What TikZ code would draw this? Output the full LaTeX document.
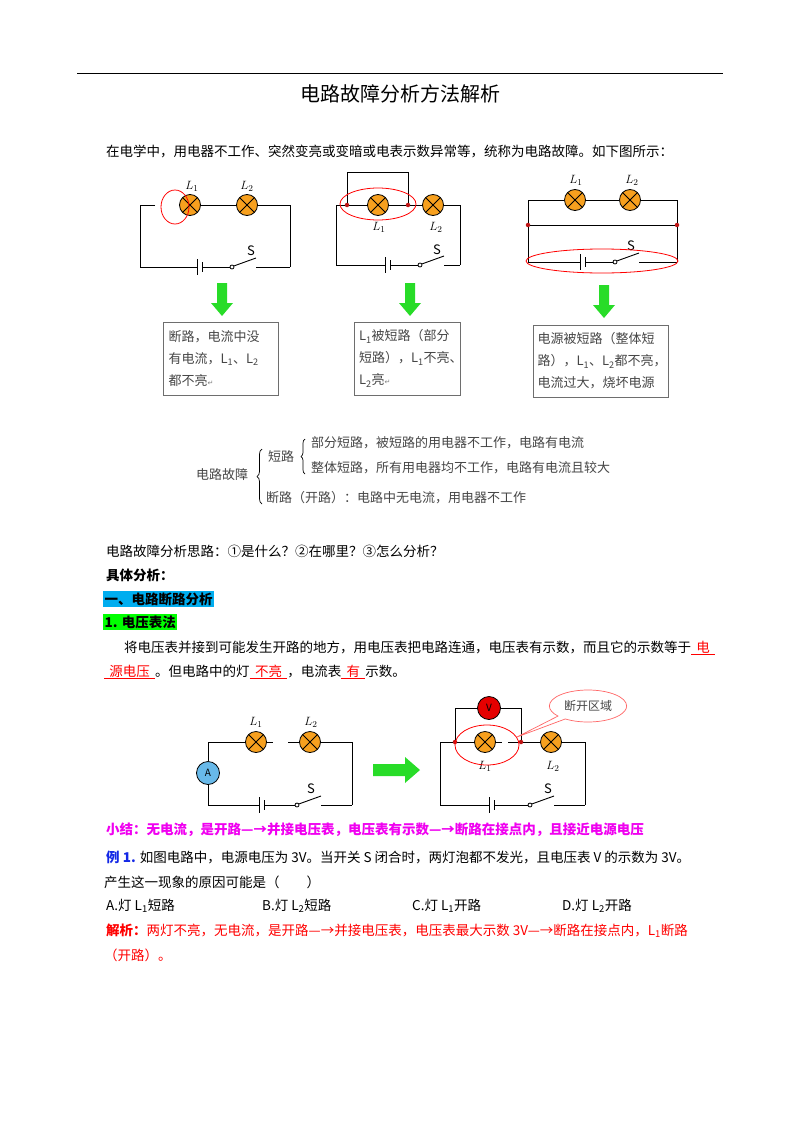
\documentclass[tikz,border=0pt]{standalone}
\usepackage{fontspec}
\setmainfont{Noto Sans CJK SC}
\newfontfamily\symfont{DejaVu Sans}
\usetikzlibrary{shapes.geometric,shapes.callouts,decorations.pathreplacing}

\definecolor{lampor}{RGB}{247,160,30}
\definecolor{dotred}{RGB}{190,20,20}
\definecolor{arrgreen}{RGB}{40,220,40}
\definecolor{magtext}{RGB}{240,0,240}
\definecolor{bluetext}{RGB}{20,40,230}
\definecolor{boxgray}{RGB}{110,110,110}
\definecolor{graytext}{RGB}{70,70,70}

\newcommand\retmark{{\symfont\fontsize{7}{8}\selectfont\textcolor{gray}{↵}}}
\newcommand\fillu[1]{\textcolor{red}{$\underline{\hbox{\ \,#1\ \,}}$}}

\tikzset{
  wire/.style={line width=0.9pt},
  lamp/.style={circle, draw, line width=0.8pt, fill=lampor, minimum size=21pt, inner sep=0pt,
    path picture={\draw[line width=0.8pt] (path picture bounding box.north west) -- (path picture bounding box.south east)
      (path picture bounding box.north east) -- (path picture bounding box.south west);}},
  meter/.style={circle, draw, line width=0.8pt, minimum size=23pt, inner sep=0pt, font=\fontsize{10}{10}\selectfont},
  jdot/.style={circle, fill=dotred, inner sep=0pt, minimum size=4.5pt},
  lbl/.style={inner sep=0pt, font=\fontsize{13}{13}\selectfont},
  txt/.style={anchor=west, inner sep=0pt, font=\fontsize{13.5}{15}\selectfont},
  box/.style={draw=boxgray, line width=0.9pt, inner sep=0pt, align=left, text=graytext,
    font=\fontsize{13}{22}\selectfont},
  battery/.pic={\draw[line width=0.9pt] (-2.5,-8) -- (-2.5,8); \draw[line width=1.8pt] (2.5,-5) -- (2.5,5);},
  switch/.pic={\draw[line width=0.8pt, fill=white] (0,0) circle (2); \draw[line width=0.9pt] (1.8,-1) -- (24,-9);},
  downarrow/.pic={\fill[arrgreen] (-5,0) -- (5,0) -- (5,20) -- (11,20) -- (0,33) -- (-11,20) -- (-5,20) -- cycle;},
}

% bottom wire: left x, right x, y, battery x, switch x
\newcommand\bwire[5]{%
  \draw[wire] (#1,#3) -- (#4-2.5,#3) (#4+2.5,#3) -- (#5-2,#3) (#5+24,#3) -- (#2,#3);
  \pic at (#4,#3) {battery};
  \pic at (#5,#3) {switch};}

\begin{document}
\begin{tikzpicture}[x=1pt,y=-1pt]
  \useasboundingbox[fill=white] (0,0) rectangle (800,1132);

  % header
  \draw[line width=0.8pt] (77,73) -- (723,73);
  \node[inner sep=0pt, font=\fontsize{20}{22}\selectfont] (title) at (400,94) {电路故障分析方法解析};
  \node[txt] (intro) at (106,151) {在电学中，用电器不工作、突然变亮或变暗或电表示数异常等，统称为电路故障。如下图所示：};

  % circuit 1: open circuit
  \node[lamp] (c1l1) at (190,205) {};
  \node[lamp] (c1l2) at (247,205) {};
  \node[lbl] at (192,186) {$L_1$};
  \node[lbl] at (247,186) {$L_2$};
  \draw[wire] (155,205) -- (140,205) -- (140,267);
  \draw[wire] (c1l1) -- (c1l2) -- (290,205) -- (290,267);
  \bwire{140}{290}{267}{200}{232}
  \node[lbl] at (251,251) {S};
  \draw[red, line width=0.8pt] (175,207) ellipse (14 and 17);
  \pic at (222,283) {downarrow};
  \node[box, minimum width=115pt, minimum height=73pt, text width=104pt] (b1) at (220.5,358.5)
    {断路，电流中没\\有电流，L\textsubscript{1}、L\textsubscript{2}\\都不亮\retmark};

  % circuit 2: L1 shorted
  \node[lamp] (c2l1) at (378,205) {};
  \node[lamp] (c2l2) at (433,205) {};
  \node[jdot] (c2d1) at (347,205) {};
  \node[jdot] (c2d2) at (408,205) {};
  \node[lbl] at (379,227) {$L_1$};
  \node[lbl] at (436,227) {$L_2$};
  \draw[wire] (336,265) -- (336,205) -- (c2d1) -- (c2l1) -- (c2d2) -- (c2l2) -- (460,205) -- (460,265);
  \draw[wire] (c2d1) -- (347,172) -- (408,172) -- (c2d2);
  \bwire{336}{460}{265}{388}{420}
  \node[lbl] at (437,250) {S};
  \draw[red, line width=0.8pt] (378,204) ellipse (38 and 16);
  \pic at (410,283) {downarrow};
  \node[box, minimum width=106pt, minimum height=73pt, text width=96pt] (b2) at (407,358.5)
    {L\textsubscript{1}被短路（部分\\短路），L\textsubscript{1}不亮、\\L\textsubscript{2}亮\retmark};

  % circuit 3: source shorted
  \node[lamp] (c3l1) at (575,200) {};
  \node[lamp] (c3l2) at (630,200) {};
  \node[jdot] (c3d1) at (528,225) {};
  \node[jdot] (c3d2) at (677,225) {};
  \node[lbl] at (576,180) {$L_1$};
  \node[lbl] at (632,180) {$L_2$};
  \draw[wire] (c3d1) -- (528,200) -- (c3l1) -- (c3l2) -- (677,200) -- (c3d2);
  \draw[wire] (c3d1) -- (c3d2);
  \draw[wire] (c3d1) -- (528,262);
  \draw[wire] (c3d2) -- (677,262);
  \bwire{528}{677}{262}{583}{615}
  \node[lbl] at (631,246) {S};
  \draw[red, line width=0.8pt] (602,261) ellipse (76 and 12);
  \pic at (604,285) {downarrow};
  \node[box, minimum width=135pt, minimum height=72pt, text width=126pt] (b3) at (600.5,361)
    {电源被短路（整体短\\路），L\textsubscript{1}、L\textsubscript{2}都不亮，\\电流过大，烧坏电源};

  % classification tree
  \node[inner sep=0pt, font=\fontsize{13}{15}\selectfont, text=graytext] (root) at (222,475) {电路故障};
  \draw[line width=0.7pt, decorate, decoration={brace, amplitude=5pt}] (262,504) -- (262,449);
  \node[txt, font=\fontsize{13}{15}\selectfont, text=graytext] (short) at (268,457) {短路};
  \draw[line width=0.7pt, decorate, decoration={brace, amplitude=4pt}] (305,474) -- (305,439);
  \node[txt, font=\fontsize{13}{15}\selectfont, text=graytext] (s1) at (311,443) {部分短路，被短路的用电器不工作，电路有电流};
  \node[txt, font=\fontsize{13}{15}\selectfont, text=graytext] (s2) at (311,468) {整体短路，所有用电器均不工作，电路有电流且较大};
  \node[txt, font=\fontsize{13}{15}\selectfont, text=graytext] (open) at (266,498) {断路（开路）：电路中无电流，用电器不工作};

  % analysis text
  \node[txt] at (106,551) {电路故障分析思路：①是什么？②在哪里？③怎么分析？};
  \node[txt, font=\fontsize{13.5}{15}\selectfont\bfseries] at (106,575) {具体分析：};
  \node[txt, fill=cyan, inner sep=1.5pt, font=\fontsize{13.5}{15}\selectfont\bfseries] at (103,599) {一、电路断路分析};
  \node[txt, fill=green, inner sep=1.5pt, font=\fontsize{13.5}{15}\selectfont\bfseries] at (103,622) {1. 电压表法};
  \node[txt] at (124,648) {将电压表并接到可能发生开路的地方，用电压表把电路连通，电压表有示数，而且它的示数等于\fillu{电}};
  \node[txt] at (104,672) {\fillu{源电压}。但电路中的灯\fillu{不亮}，电流表\fillu{有}示数。};

  % circuit 4: open circuit with ammeter
  \node[lamp] (c4l1) at (256,742) {};
  \node[lamp] (c4l2) at (310,742) {};
  \node[meter, fill=cyan!80!blue!60] (am) at (208,773) {A};
  \node[lbl] at (256,722) {$L_1$};
  \node[lbl] at (311,722) {$L_2$};
  \draw[wire] (am) -- (208,742) -- (c4l1);
  \draw[wire] (c4l1.east) -- ++(6,0);
  \draw[wire] (288,742) -- (c4l2) -- (352,742) -- (352,805);
  \draw[wire] (am) -- (208,805);
  \bwire{208}{352}{805}{262}{297}
  \node[lbl] at (311,789) {S};

  % right arrow
  \fill[arrgreen] (373,764) -- (405,764) -- (405,757) -- (420,770) -- (405,783) -- (405,776) -- (373,776) -- cycle;

  % circuit 5: voltmeter across L1
  \node[lamp] (c5l1) at (485,742) {};
  \node[lamp] (c5l2) at (551,742) {};
  \node[jdot] (c5d1) at (455,742) {};
  \node[jdot] (c5d2) at (521,742) {};
  \node[meter, fill=red!90!black, text=black] (vm) at (489,708) {V};
  \node[lbl] at (485,766) {$L_1$};
  \node[lbl] at (553,766) {$L_2$};
  \draw[wire] (c5d1) -- (455,708) -- (vm) -- (521,708) -- (c5d2);
  \draw[wire] (440,805) -- (440,742) -- (c5d1) -- (c5l1);
  \draw[wire] (c5l1.east) -- ++(6,0);
  \draw[wire] (508,742) -- (c5d2) -- (c5l2) -- (585,742) -- (585,805);
  \bwire{440}{585}{805}{492}{530}
  \node[lbl] at (548,789) {S};
  \node[ellipse, draw=red, line width=0.8pt, minimum width=64pt, minimum height=40pt] (e1) at (487,745) {};
  \node[ellipse callout, draw=red!60, line width=0.7pt, minimum width=74pt, minimum height=32pt,
    callout absolute pointer={(517,737)}, font=\fontsize{12}{12}\selectfont, text=graytext] (open1) at (588,706) {断开区域};

  % summary and example
  \node[txt, text=magtext, font=\fontsize{13.5}{15}\selectfont\bfseries] at (106,830)
    {小结：无电流，是开路—→并接电压表，电压表有示数—→断路在接点内，且接近电源电压};
  \node[txt] at (106,857) {\textcolor{bluetext}{\bfseries 例 1.} 如图电路中，电源电压为 3V。当开关 S 闭合时，两灯泡都不发光，且电压表 V 的示数为 3V。};
  \node[txt] at (104,882) {产生这一现象的原因可能是（\qquad ）};
  \node[txt] at (106,906) {A.灯 L\textsubscript{1}短路};
  \node[txt] at (262,906) {B.灯 L\textsubscript{2}短路};
  \node[txt] at (412,906) {C.灯 L\textsubscript{1}开路};
  \node[txt] at (562,906) {D.灯 L\textsubscript{2}开路};
  \node[txt, text=red] at (106,931) {\textbf{解析：}两灯不亮，无电流，是开路—→并接电压表，电压表最大示数 3V—→断路在接点内，L\textsubscript{1}断路};
  \node[txt, text=red] at (104,955) {（开路）。};
\end{tikzpicture}
\end{document}
